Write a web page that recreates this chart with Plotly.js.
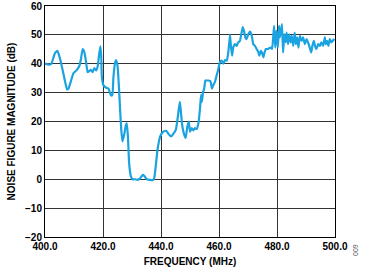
<!DOCTYPE html>
<html><head><meta charset="utf-8">
<script src="https://cdn.plot.ly/plotly-3.0.1.min.js"></script>
<style>html,body{margin:0;padding:0;background:#fff}#c{width:365px;height:270px}</style>
</head><body><div id="c"></div>
<script>
const freq = [400,401.2,402.2,403.4,404.3,404.7,405.6,406.6,407.6,408.1,409,409.8,411,411.9,412.4,413,413.5,414.1,414.7,415.2,415.8,416.4,417,417.6,418.1,418.7,419.1,419.4,419.6,420.2,421.1,421.9,422.7,423.2,423.6,424.2,424.5,425,425.5,425.9,426.3,426.7,427.3,427.9,428.2,428.6,429,429.6,430.2,431.1,431.9,432.8,433.7,434.3,435.1,436.2,437.2,437.7,438.3,438.8,439.2,439.7,440.8,441.8,442.5,443.5,444.3,445.1,445.6,446.1,446.5,446.8,447.3,448,448.5,449.1,449.6,450,450.6,451.2,451.7,452.3,452.9,453.5,453.8,454.1,454.5,454.9,455.3,455.8,456.4,457,457.6,458,458.6,459.2,459.8,460.3,460.9,461.5,462.1,462.7,463.2,463.8,464.1,464.5,464.9,465.5,466.1,466.6,467.2,467.8,468.2,468.6,469.1,469.5,470.1,470.7,471.3,471.8,472.4,473,473.6,473.9,474.4,474.8,475.3,475.7,476.2,476.8,477.3,477.9,478.3,478.7,479,479.4,479.8,480.3,480.7,481,481.7,482.1,482.5,483,483.3,483.8,484.2,484.7,485.1,485.6,486.1,486.5,487,487.4,487.9,488.5,489,489.6,490.2,490.7,491.3,491.8,492.2,492.7,493.1,493.6,494.2,494.8,495.3,495.9,496.5,496.8,497.3,497.7,498.2,498.8,499.3,499.9];
const nf = [40.1,39.7,40,43.6,44.5,43.4,40,35.4,31.1,31.4,34.2,36.7,37.9,39.4,41.7,45.1,44.3,41.1,37.1,37.4,37.9,37.1,38.5,37.7,38.8,43.4,46,42.2,35.4,32.5,31.7,31.4,29.1,29.1,35.4,40.5,41.3,39.4,32,24,17.1,13.1,15.4,18.8,19.4,14.8,5.7,1.1,0,0,-0.2,0.3,1.5,1.1,0,-0.2,-0.3,0.6,5.7,10.3,12.6,14.8,16.5,16.8,15.8,14.8,15.8,17.1,20,24,26.8,24,18.8,15.4,14.3,18.3,20,16.5,17.7,16.9,17.7,17.4,19.4,25.1,29.1,26.8,30.2,31.4,34.2,34.2,34.2,34,31.4,32.5,33.7,36,38.3,40.5,41.1,40,41.3,41.1,43.9,50,46.2,42.8,45.6,46.8,46.2,47.4,47.9,50.8,52.7,51.4,49.1,48.5,50.2,51.1,49.7,46.8,46.2,45.1,43.9,42.8,44.5,43.9,42.2,43.9,45.1,45.1,45.4,45.6,45.1,49.1,53.1,45.6,51.4,45.6,53.1,49.1,53.7,43.9,50.2,47.4,50.8,46.8,50.2,47.4,49.7,46.2,50.8,46.8,49.1,45.6,49.7,47.9,49.1,46.8,48.5,47.4,45.6,43.9,46.2,47.9,46.2,45.1,46.8,46.2,47.4,46.2,49.1,46.8,47.9,46.2,48.5,47.4,48.1,48.5];
const xTicks = [400,420,440,460,480,500];
const yTicks = [-20,-10,0,10,20,30,40,50,60];

const font = {family:'Liberation Sans, Arial, sans-serif', color:'#000'};
Plotly.newPlot('c', [{
  x: freq, y: nf, type:'scatter', mode:'lines',
  line:{color:'#1aa3e0', width:2.2, shape:'spline', smoothing:0.4},
  hoverinfo:'skip'
}], {
  width:365, height:270,
  margin:{l:45, r:30, t:6, b:33},
  paper_bgcolor:'#fff', plot_bgcolor:'#fff',
  showlegend:false,
  xaxis:{
    range:[400,500], tickvals:xTicks, ticktext:xTicks.map(v=>v.toFixed(1)),
    showgrid:true, gridcolor:'#333', gridwidth:1, zeroline:false,
    showline:true, linecolor:'#000', linewidth:1, mirror:true, ticks:'',
    tickfont:{...font, size:10, weight:'bold'},
    ticklabeloverflow:'allow',
    title:{text:'FREQUENCY (MHz)', font:{...font, size:10, weight:'bold'}, standoff:6}
  },
  yaxis:{
    range:[-20,60], tickvals:yTicks, ticktext:yTicks.map(v=>v<0?'\u2212'+Math.abs(v):String(v)),
    showgrid:true, gridcolor:'#333', gridwidth:1, zeroline:false,
    showline:true, linecolor:'#000', linewidth:1, mirror:true, ticks:'',
    tickfont:{...font, size:10, weight:'bold'},
    ticklabeloverflow:'allow',
    title:{text:'NOISE FIGURE MAGNITUDE (dB)', font:{...font, size:10, weight:'bold'}, standoff:7}
  },
  annotations:[{
    text:'009', xref:'paper', yref:'paper', x:1.07, y:-0.02, xanchor:'center', yanchor:'top',
    showarrow:false, textangle:-90, font:{...font, size:7, color:'#555'}
  }]
}, {staticPlot:true, displayModeBar:false});
</script></body></html>
